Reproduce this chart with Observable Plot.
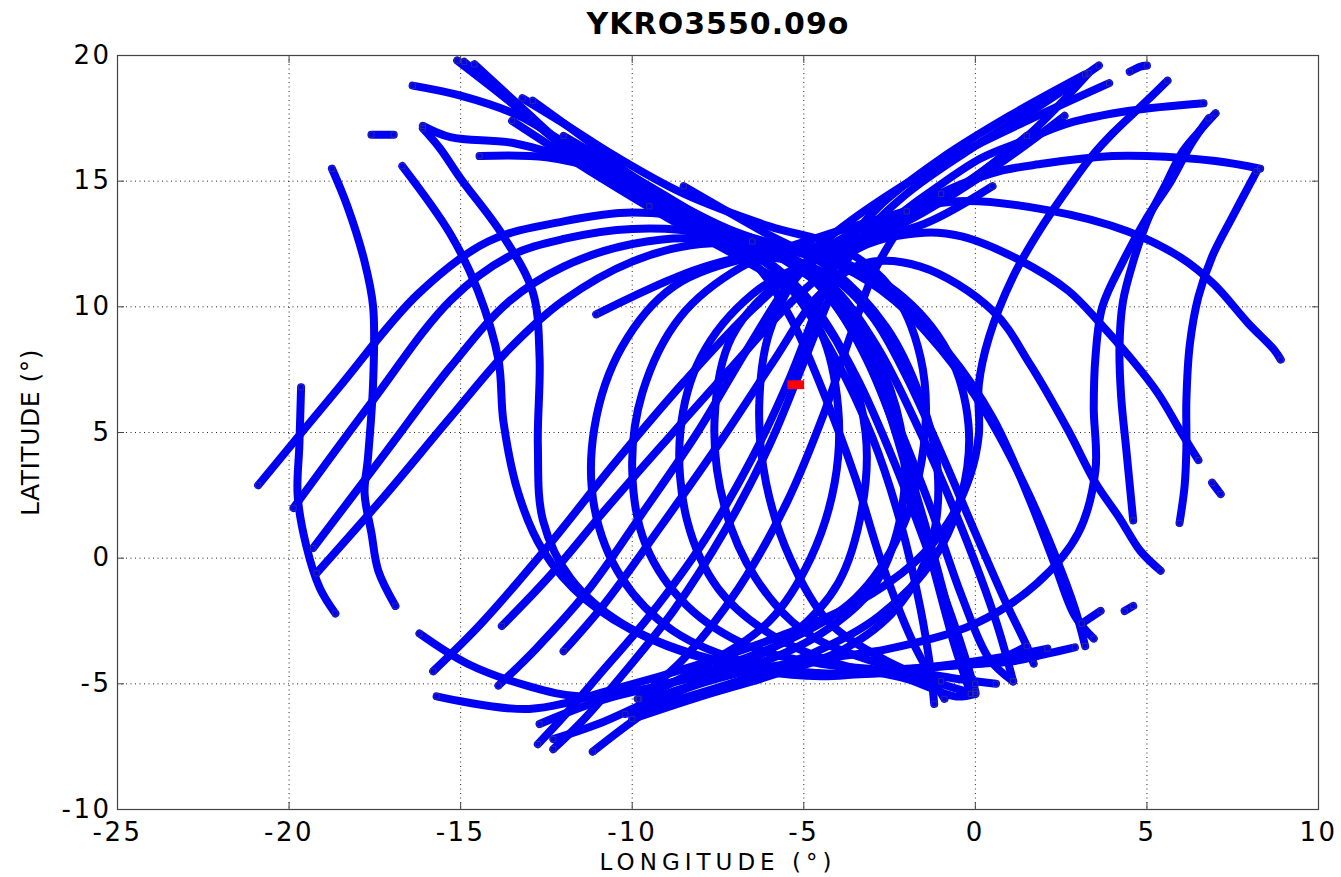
<!DOCTYPE html>
<html><head><meta charset="utf-8">
<script src="https://cdn.jsdelivr.net/npm/d3@7"></script>
<script src="https://cdn.jsdelivr.net/npm/@observablehq/plot@0.6"></script>
<style>
body{margin:0;background:#fff;}
#chart svg text{letter-spacing:2.5px;}
</style></head>
<body><div id="chart"></div>
<script>
const titleText = "YKRO3550.09o";
const xLabel = "LONGITUDE (°)";
const yLabel = "LATITUDE (°)";
const xTicks = [-25,-20,-15,-10,-5,0,5,10];
const yTicks = [-10,-5,0,5,10,15,20];

// station position (red marker)
const stationLon = [-5.35,-5.12];
const stationLat = [6.9,6.9];

// ionospheric pierce point tracks, [longitude, latitude]
const L1 = [[-20.9,2.9],[-18.6,6.7],[-16.25,10.5],[-14.2,12.6],[-12,13.4],[-10,13.75],[-8,13.4],[-6.6,12.4],[-5.3,10.6],[-4.1,8.0],[-3.0,4.8],[-2.2,1.5],[-1.6,-2.0],[-1.3,-4.5],[-1.2,-5.8]];
const L2 = [[-19.87,2.0],[-17.6,6.2],[-15.3,10.25],[-13.6,12.0],[-12,12.7],[-10,13.1],[-8,12.9],[-6.5,11.8],[-5.4,9.6],[-4.4,6.5],[-3.5,3.2],[-2.7,-0.3],[-1.8,-3.4],[-0.9,-5.6]];
const L3 = [[-19.3,0.4],[-17.3,4.0],[-15.3,7.6],[-13.6,10.2],[-12,11.6],[-10,12.5],[-8,12.7],[-6.3,12.0],[-4.8,10.2],[-3.5,7.3],[-2.3,3.6],[-1.2,-0.4],[-0.4,-3.5],[0,-5.3]];
const L4 = [[-19.2,-0.6],[-17.2,2.5],[-15.3,5.6],[-13.6,8.3],[-12,10.25],[-10,11.8],[-8,12.5],[-6,12.3],[-4.3,11],[-2.9,8.5],[-1.6,5],[-0.4,1.2],[0.6,-2.5],[1.1,-4.9]];
const L5 = [[-11.05,9.7],[-10,10.4],[-8.5,11.3],[-7,11.9],[-5.6,11.9],[-4.2,11.2],[-3,9.6],[-2,7.2],[-1,4.2],[0,1],[0.9,-1.8],[1.5,-3.5],[1.7,-4.2]];
const R1 = [[-15.8,-4.5],[-14.4,-2.6],[-12.5,0.4],[-10.5,3.8],[-8.5,7.0],[-6.5,9.9],[-4.5,12.2],[-2.5,13.6],[-0.5,14.2],[2.1,13.85],[4.45,13.0],[6.0,11.95],[6.95,10.9],[7.95,9.35],[8.7,8.3],[8.9,7.9]];
const R2 = [[-13.8,-2.7],[-12.4,-0.7],[-10.8,1.9],[-9,4.7],[-7.1,7.6],[-5.2,10.4],[-3.3,12.4],[-1.5,12.95],[-0.4,12.8],[1.3,11.85],[2.7,10.65],[3.6,9.4],[4.5,8.0],[5.3,6.6],[6.0,5.0],[6.5,3.9]];
const R3 = [[-12.0,-3.7],[-10.8,-1.8],[-9.2,1.2],[-7.5,4.5],[-5.9,7.8],[-4.6,10.4],[-3.3,11.7],[-1.6,11.6],[0.5,9.85],[1.6,7.7],[2.7,5.1],[3.5,3.0],[4.2,1.6],[4.8,0.3],[5.4,-0.5]];
const S1 = [[-12.75,-7.4],[-12,-6.3],[-11,-4.7],[-9.5,-2.3],[-7.9,0.7],[-6.5,4.0],[-5.4,7.2],[-4.6,10.0],[-3.9,12.2],[-2.8,14.0],[-1,15.9],[1,17.6],[3.2,19.25]];
const S2 = [[-12.3,-7.6],[-11.4,-6.4],[-10.2,-4.5],[-8.8,-2.1],[-7.3,1.1],[-6.0,4.5],[-5.0,7.8],[-4.2,10.5],[-3.4,12.6],[-2.0,14.5],[0,16.4],[2,18.1],[3.6,19.6]];
const S3 = [[-13.9,-5.07],[-12.8,-3.6],[-11.3,-1.3],[-9.7,1.8],[-8.1,5.0],[-6.7,8.2],[-5.4,11.0],[-4.3,12.7],[-2.6,14.4],[-0.6,16.0],[1.5,17.4],[3.9,18.9]];
const Q1 = [[-9.84,-5.6],[-8.5,-4.0],[-6.9,-1.2],[-5.5,2.2],[-4.4,5.8],[-3.6,9.0],[-2.8,11.8],[-1.6,14.0],[0.45,15.3],[2,15.7],[4,16.0],[5,16.0],[7,15.8],[8.3,15.5]];
const W1 = [[-15.1,19.8],[-13.6,18.2],[-12.2,16.6],[-10.5,15.0],[-8.5,13.6],[-6.5,12.6],[-4.8,12.3],[-3.3,12.7],[-1.5,14.4],[0.15,15.9],[1.4,16.6],[2.7,17.3],[4.5,17.8],[6.65,18.1]];
const V1 = [[-16.1,17.2],[-15.3,16.75],[-13.4,16.5],[-11.5,15.7],[-9.5,14.3],[-7.5,13.0],[-5.6,12.4],[-4,12.5],[-2.2,13.4],[-0.2,15.0],[1.6,16.9],[3.3,19.3]];
const T1 = [[-14.9,19.75],[-13.5,18.1],[-12.1,16.5],[-10.4,14.9],[-8.4,13.5],[-6.5,12.5],[-4.9,11.3],[-3.7,9.3],[-2.7,6.5],[-1.9,3],[-1.2,-0.5],[-0.6,-3.5],[-0.13,-5.4]];
const T2 = [[-14.6,19.65],[-13.2,17.9],[-11.8,16.2],[-10.1,14.6],[-8.1,13.2],[-6.2,12.3],[-4.6,11.0],[-3.3,8.8],[-2.3,5.5],[-1.3,2],[-0.4,-1.5],[0.4,-4.0],[1.1,-4.9]];
const T3 = [[-16.4,18.8],[-15,18.4],[-13.3,17.6],[-11.6,16.2],[-9.6,14.6],[-7.6,13.2],[-5.6,12.4],[-3.8,11.6],[-2.2,10.2],[-0.8,8.2],[0.5,5.6],[1.5,2.6],[2.3,-0.2],[2.9,-2.3],[3.45,-3.2]];
const T4 = [[-12.9,18.2],[-11.2,16.5],[-10.1,15.3],[-8.3,13.8],[-6.8,12.8],[-5.3,11.8],[-4.2,10.3],[-3.2,8],[-2.3,5],[-1.5,1.5],[-0.8,-2],[-0.3,-4.5],[0,-5]];
const T5 = [[-14.45,16.0],[-12.5,15.95],[-10.8,15.4],[-9,14.3],[-7.2,13.1],[-5.5,12.3],[-3.9,11.6],[-2.4,10.3],[-1,8.3],[0.3,5.8],[1.4,3],[2.3,0.2],[2.9,-2],[3.2,-3.5]];
const RV1 = [[8.2,15.4],[7.5,13.6],[6.9,12.0],[6.5,10.4],[6.25,8.5],[6.15,6.3],[6.15,4.4],[6.1,2.9],[5.95,1.4]];
const RV2 = [[7.0,17.7],[6.6,17.1],[6.05,16.2],[5.5,14.75],[5.05,13.55],[4.6,11.8],[4.3,10.2],[4.2,8.4],[4.25,6.4],[4.4,4.3],[4.6,1.5]];
const RV3 = [[6.8,17.5],[6.3,16.5],[5.7,15.0],[5.0,13.55],[4.3,11.8],[3.7,10.0],[3.5,8],[3.45,6],[3.5,3.5],[3.0,1.0],[1.8,-1.0],[0,-2.6],[-2.5,-3.6],[-5,-4.1],[-7,-4.6],[-8.8,-5.4],[-10,-6.5],[-11.15,-7.7]];
const D1 = [[5.6,19.0],[5.0,18.2],[4.0,16.9],[3.4,16.0],[2.8,14.9],[1.9,13.1],[1.1,11.2],[0.4,8.8],[0.1,6.9],[0.1,4.9],[-0.15,3.3],[-0.8,1.4],[-1.8,-0.2],[-3.5,-1.8],[-5.5,-3.0],[-8,-4.2],[-10.5,-5.2],[-13,-6.0],[-15.7,-5.5]];
const B1 = [[-16.2,-3.0],[-14.8,-4.2],[-13,-5.1],[-11.5,-5.5],[-9.6,-5.2],[-7.6,-4.4],[-5.5,-3.3],[-3.5,-1.6],[-2.2,1.0],[-1.5,4.5],[-1.6,8],[-2.5,10.8],[-4,12.4],[-6,13.2],[-8.5,14.5],[-10.5,16],[-12,17.3],[-13.2,18.3]];
const C1 = [[-16.7,15.6],[-15.3,12.9],[-14.5,10.65],[-13.9,7.9],[-13.75,5.4],[-13.3,2.5],[-12.6,0.3],[-11.4,-1.6],[-9.5,-3.2],[-7,-4.3],[-4.5,-4.7],[-2,-4.4],[0.2,-4.2],[1.1,-4.1],[2.1,-3.8],[2.9,-3.55]];
const C2 = [[-16.1,17.1],[-15.6,16.3],[-15,15.1],[-13.8,12.9],[-12.9,10.6],[-12.7,8],[-12.75,4.5],[-12.6,1.5],[-11.8,-0.8],[-10.3,-2.6],[-8,-3.9],[-5.5,-4.5],[-3,-4.6],[-1,-4.3],[0.5,-4.1],[1.5,-3.5]];
const O1 = [[2.6,17.6],[0.5,15.5],[-2,13.4],[-4.5,12.0],[-6.5,10.5],[-8,8],[-8.6,5],[-8.4,1.5],[-7.5,-1.2],[-6,-3],[-4,-4.2],[-2,-4.8],[-0.6,-5.5],[0,-5.4]];
const O2 = [[-12,16.8],[-9.5,14.8],[-7.5,13.2],[-5.5,11.8],[-3.8,10],[-2.7,7.5],[-2.1,4.5],[-2.2,1.5],[-3,-1.2],[-4.5,-3.0],[-6.5,-4.3],[-9,-5.4],[-11,-6.6],[-12.3,-7.2]];
const O3 = [[1.5,16.8],[-0.5,14.7],[-3,12.8],[-5.5,11.2],[-7.1,8.8],[-7.6,5.5],[-7.3,2],[-6.4,-0.8],[-5,-2.9],[-3,-4.1],[-1,-4.7],[0.6,-5.0]];
const O4 = [[-13.5,17.4],[-11,15.2],[-8.8,13.4],[-6.8,11.9],[-5,10.3],[-3.8,8],[-3.2,5],[-3.3,2],[-4,-1],[-5.3,-3],[-7,-4.3],[-9,-5.0],[-11,-5.7],[-12.7,-6.6]];
const O5 = [[0.5,14.8],[-1.5,13.3],[-4,12.5],[-6.5,12.0],[-8.8,10.8],[-10.3,8.4],[-11.1,5.2],[-11.1,2],[-10.3,-0.8],[-8.8,-2.9],[-6.5,-4.2],[-4,-4.6],[-1.8,-4.4],[0.5,-4.0],[2.1,-3.6]];
const O6 = [[-2,13.8],[-4.5,12.8],[-6.8,11.6],[-8.6,9.6],[-9.7,6.6],[-10,3.5],[-9.6,0.5],[-8.4,-1.9],[-6.6,-3.5],[-4.5,-4.2],[-2.5,-4.5],[-1.0,-4.9]];
const O7 = [[-8.5,14.8],[-6.2,13.0],[-4.2,11.5],[-2.6,9.2],[-1.6,6.4],[-1.1,3.5],[-1.3,0.5],[-2.3,-2.0],[-3.8,-3.6],[-5.8,-4.6],[-8,-5.5],[-10,-6.4]];
const O8 = [[-6.5,12.6],[-4.3,12.0],[-2.3,10.6],[-0.8,8.2],[-0.2,5.3],[-0.4,2.5],[-1.2,0],[-2.8,-2.3],[-4.6,-3.7],[-6.5,-4.7],[-8.6,-5.6],[-10.2,-6.2]];
const O9 = [[-1,14.5],[-3,13],[-5,11.5],[-6,9],[-6.3,6],[-6.1,3],[-5.4,0],[-4.3,-2.5],[-2.7,-4],[-1,-5],[0,-5.4]];
const O10 = [[-9.5,14],[-7.5,12.8],[-5.6,11.2],[-4.5,9],[-4.0,6],[-4.1,3],[-4.8,0],[-6,-2.5],[-7.8,-4.2],[-9.8,-5.6]];
const VL1 = [[-18.75,15.5],[-18.3,14],[-17.8,11.8],[-17.55,10],[-17.55,7],[-17.7,4],[-17.8,2.6],[-17.6,1],[-17.4,-0.5],[-16.9,-1.9]];
const VL2 = [[-19.65,6.8],[-19.7,4.5],[-19.75,2.5],[-19.5,0.5],[-19.1,-1.2],[-18.65,-2.2]];
const F1 = [[-17.6,16.85],[-16.95,16.85]];
const F2 = [[4.5,19.35],[4.8,19.55],[5.0,19.6]];
const F3 = [[6.9,3.0],[7.15,2.55]];
const F4 = [[4.35,-2.1],[4.6,-1.9]];
const F5 = [[3.1,-2.6],[3.65,-2.1]];

const trackList = [
  ["L1",L1],["L2",L2],["L3",L3],["L4",L4],["L5",L5],
  ["R1",R1],["R2",R2],["R3",R3],["S1",S1],["S2",S2],["S3",S3],
  ["Q1",Q1],["W1",W1],["V1",V1],["T1",T1],["T2",T2],["T3",T3],["T4",T4],["T5",T5],
  ["RV1",RV1],["RV2",RV2],["RV3",RV3],["D1",D1],["B1",B1],["C1",C1],["C2",C2],
  ["O1",O1],["O2",O2],["O3",O3],["O4",O4],["O5",O5],["O6",O6],["O7",O7],["O8",O8],["O9",O9],["O10",O10],
  ["VL1",VL1],["VL2",VL2],["F1",F1],["F2",F2],["F3",F3],["F4",F4],["F5",F5]
];

const points = trackList.flatMap(([id, pts]) => pts.map(([lon, lat]) => ({id, lon, lat})));
const ends = trackList.flatMap(([id, pts]) => [pts[0], pts[pts.length - 1]].map(([lon, lat]) => ({id, lon, lat})));
const station = stationLon.map((lon, i) => ({lon, lat: stationLat[i]}));

const fmt = d => String(d);
const chart = Plot.plot({
  width: 1341, height: 877,
  marginLeft: 117, marginRight: 23, marginTop: 55, marginBottom: 68,
  x: {domain: [-25, 10]},
  y: {domain: [-10, 20]},
  style: {fontFamily: "DejaVu Sans", fontSize: "26px", color: "black", background: "white", overflow: "visible"},
  marks: [
    Plot.gridX(xTicks, {stroke: "black", strokeOpacity: 0.85, strokeDasharray: "1,3.5", strokeWidth: 1}),
    Plot.gridY(yTicks, {stroke: "black", strokeOpacity: 0.85, strokeDasharray: "1,3.5", strokeWidth: 1}),
    Plot.line(points, {x: "lon", y: "lat", z: "id", stroke: "#0000f4", strokeWidth: 8, curve: "catmull-rom", strokeLinejoin: "round", strokeLinecap: "round"}),
    Plot.dot(ends, {x: "lon", y: "lat", symbol: "square", r: 3, stroke: "#2b2b9c", fill: "none", strokeWidth: 1}),
    Plot.dot(station, {x: "lon", y: "lat", symbol: "square", r: 5, fill: "#ff0000", stroke: "none"}),
    Plot.frame({stroke: "#444", strokeWidth: 1.2}),
    Plot.axisX(xTicks, {anchor: "bottom", tickSize: -7, tickPadding: 20, tickFormat: fmt, label: null, stroke: "#444"}),
    Plot.axisX(xTicks, {anchor: "top", tickSize: -7, tickFormat: () => "", label: null, stroke: "#444"}),
    Plot.axisY(yTicks, {anchor: "left", tickSize: -7, tickPadding: 13, tickFormat: fmt, label: null, stroke: "#444"}),
    Plot.axisY(yTicks, {anchor: "right", tickSize: -7, tickFormat: () => "", label: null, stroke: "#444"}),
    Plot.text([titleText], {text: d => d, frameAnchor: "top", lineAnchor: "middle", dy: -31, fontSize: 30, fontWeight: "bold"}),
    Plot.text([xLabel], {text: d => d, frameAnchor: "bottom", lineAnchor: "middle", dy: 53, fontSize: 23}),
    Plot.text([yLabel], {text: d => d, frameAnchor: "left", textAnchor: "middle", lineAnchor: "middle", dx: -87, rotate: -90, fontSize: 25})
  ]
});
document.getElementById("chart").appendChild(chart);
d3.select(chart).selectAll("text").each(function() {
  const t = this.textContent;
  if (t === titleText) this.style.letterSpacing = "1px";
  else if (t === xLabel) this.style.letterSpacing = "5px";
  else if (t === yLabel) this.style.letterSpacing = "0.5px";
});
</script>
</body></html>
